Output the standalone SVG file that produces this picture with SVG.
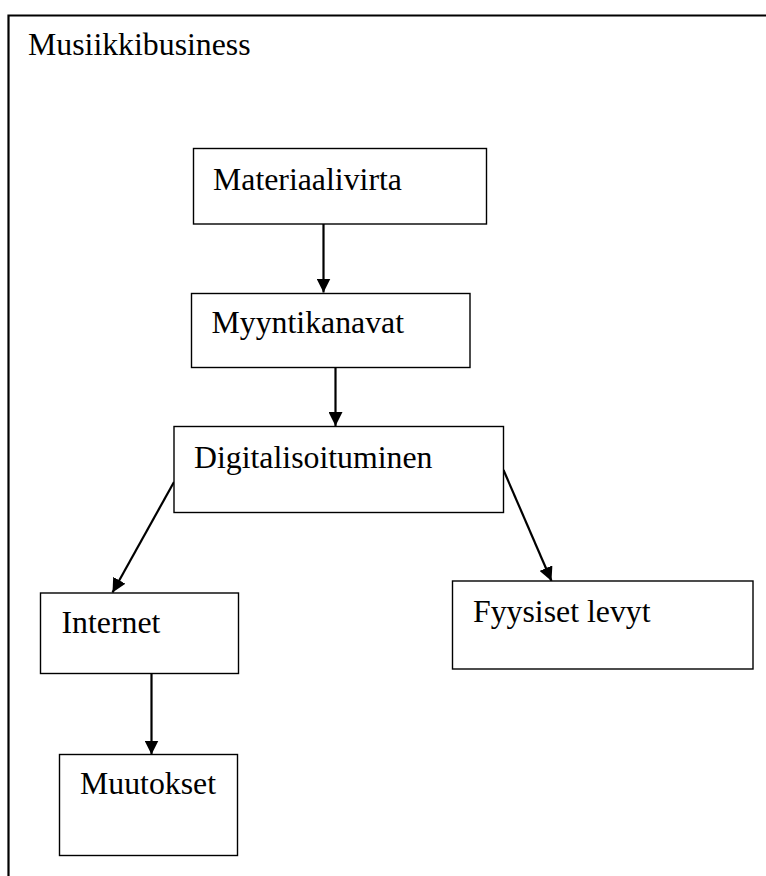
<svg xmlns="http://www.w3.org/2000/svg" width="766" height="876" viewBox="0 0 766 876">
<style>
.box{fill:#fff;stroke:#000;stroke-width:1.4}
.lbl{font-family:"Liberation Serif","Times New Roman",serif;font-size:31.8px;fill:#000}
.conn{stroke:#000;stroke-width:2.2;fill:none}
.frame{stroke:#000;stroke-width:2.2;fill:none}
</style>
<defs>
<marker id="ah" markerUnits="userSpaceOnUse" markerWidth="14" markerHeight="14" viewBox="0 0 14 14" refX="14" refY="7" orient="auto">
<path d="M0,0 L14,7 L0,14 Z" fill="#000"/>
</marker>
</defs>
<g id="frame">
<path class="frame" d="M8.5,876 L8.5,15.5 L766,15.5"/>
<text class="lbl" x="28" y="55">Musiikkibusiness</text>
</g>
<g id="connectors">
<line class="conn" x1="323.5" y1="224" x2="323.5" y2="292.5" marker-end="url(#ah)"/>
<line class="conn" x1="335.5" y1="367.5" x2="335.5" y2="426" marker-end="url(#ah)"/>
<line class="conn" x1="174" y1="482" x2="112.5" y2="592.5" marker-end="url(#ah)"/>
<line class="conn" x1="503.5" y1="470" x2="551.5" y2="581" marker-end="url(#ah)"/>
<line class="conn" x1="151.5" y1="673.5" x2="151.5" y2="754.5" marker-end="url(#ah)"/>
</g>
<g id="materiaalivirta">
<rect class="box" x="193.5" y="148.5" width="293" height="75.5"/>
<text class="lbl" x="213" y="190">Materiaalivirta</text>
</g>
<g id="myyntikanavat">
<rect class="box" x="191.5" y="293.5" width="278.5" height="74"/>
<text class="lbl" x="211.5" y="333">Myyntikanavat</text>
</g>
<g id="digitalisoituminen">
<rect class="box" x="174" y="426.5" width="329.5" height="86"/>
<text class="lbl" x="194" y="468">Digitalisoituminen</text>
</g>
<g id="internet">
<rect class="box" x="40.5" y="593" width="198" height="80.5"/>
<text class="lbl" x="61.5" y="633">Internet</text>
</g>
<g id="fyysiset">
<rect class="box" x="452.5" y="581" width="300.5" height="88"/>
<text class="lbl" x="473" y="621.5">Fyysiset levyt</text>
</g>
<g id="muutokset">
<rect class="box" x="59.5" y="754.5" width="178" height="101"/>
<text class="lbl" x="80" y="794">Muutokset</text>
</g>
</svg>
